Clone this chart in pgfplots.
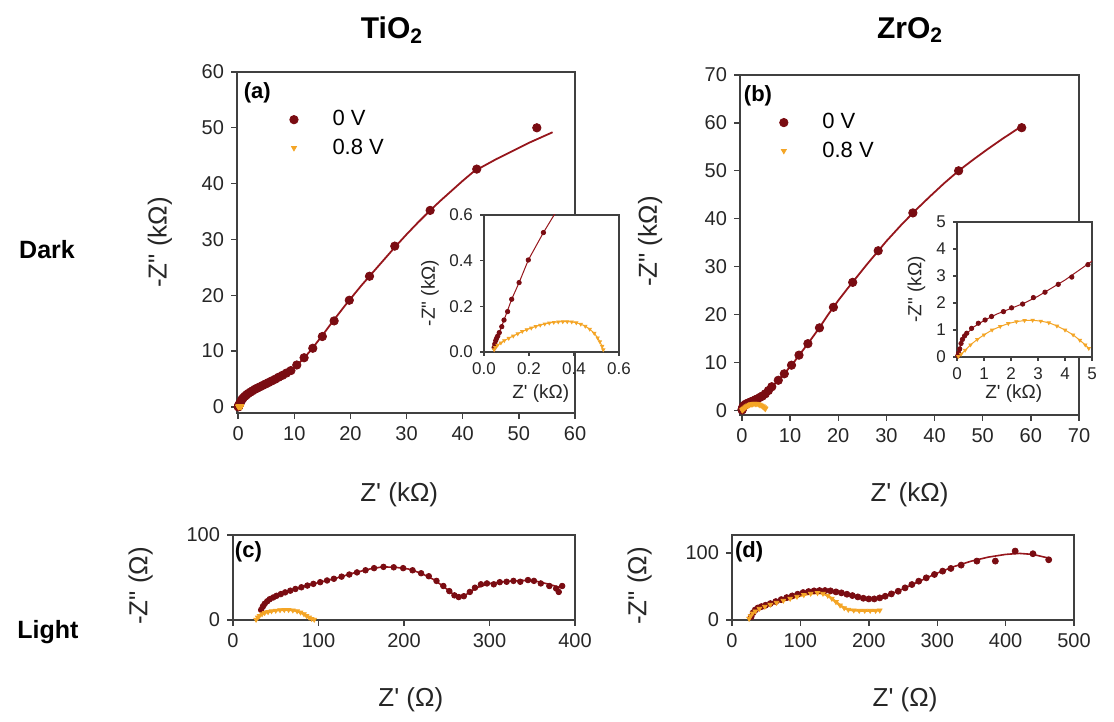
\documentclass[border=0pt]{standalone}
\usepackage{pgfplots}
\pgfplotsset{compat=1.18}
\usepackage{pgfplotstable}
\usepackage{fontspec}
\setmainfont{Liberation Sans}

\definecolor{dred}{RGB}{122,12,18}
\definecolor{fred}{RGB}{150,22,28}
\definecolor{orng}{RGB}{244,165,38}

% ---------- TiO2 dark ----------
\pgfplotstableread{
x y
0.045 0.02
0.048 0.035
0.052 0.05
0.056 0.06
0.061 0.07
0.068 0.085
0.079 0.111
0.089 0.14
0.105 0.177
0.123 0.231
0.156 0.304
0.197 0.403
0.264 0.523
0.35 0.70
0.5 1.0
0.7 1.35
0.9 1.6
1.2 1.9
1.5 2.15
1.8 2.4
2.2 2.65
2.6 2.9
3.0 3.15
3.4 3.35
3.9 3.6
4.4 3.85
4.9 4.1
5.4 4.35
6.0 4.65
6.6 4.95
7.2 5.3
7.9 5.65
8.6 6.05
9.4 6.5
10.45 7.5
11.75 8.8
13.3 10.5
15.0 12.6
17.1 15.4
19.8 19.1
23.4 23.4
27.9 28.8
34.2 35.2
42.5 42.6
53.2 50.0
}\TiZero
\pgfplotstableread{
x y
0.045 0.0
0.068 0.085
0.089 0.14
0.123 0.231
0.156 0.304
0.197 0.403
0.264 0.523
0.33 0.63
0.45 0.85
0.6 1.1
1 1.6
2 2.55
3 3.15
4 3.65
5 4.15
6 4.65
7 5.15
8 5.75
9 6.35
10 7.1
11 8.0
12 9.05
13 10.2
14 11.5
15 12.8
16 14.15
17 15.5
18 16.8
19 18.1
20 19.35
22 21.8
24 24.1
26 26.4
28 28.7
30 30.9
32 33.0
34 35.0
36 36.9
38 38.7
40 40.5
42 42.2
44 43.3
46 44.4
48 45.4
50 46.4
52 47.4
54 48.3
56 49.2
}\TiZeroFit
\pgfplotstableread{
x y
0.045 0.01
0.05 0.02
0.06 0.03
0.075 0.04
0.09 0.05
0.11 0.06
0.13 0.07
0.15 0.08
0.17 0.09
0.19 0.098
0.21 0.105
0.23 0.112
0.25 0.118
0.27 0.123
0.29 0.127
0.31 0.13
0.33 0.132
0.35 0.133
0.37 0.133
0.39 0.132
0.41 0.128
0.43 0.122
0.45 0.113
0.47 0.1
0.49 0.082
0.505 0.062
0.515 0.045
0.525 0.025
0.53 0.01
}\TiEight

% ---------- ZrO2 dark ----------
\pgfplotstableread{
x y
0.03 0.05
0.06 0.15
0.1 0.3
0.15 0.5
0.2 0.65
0.28 0.78
0.36 0.88
0.54 1.06
0.79 1.25
1.04 1.37
1.28 1.5
1.72 1.68
2.02 1.82
2.43 1.96
2.83 2.2
3.26 2.4
3.75 2.69
4.25 2.96
4.85 3.42
5.5 4.1
6.2 4.9
7.55 6.25
8.8 7.6
10.3 9.4
11.85 11.5
13.7 13.9
16.1 17.2
19.0 21.5
23.0 26.7
28.3 33.3
35.5 41.2
45.0 50.0
58.1 59.0
}\ZrZero
\pgfplotstableread{
x y
0.0 0.0
0.1 0.3
0.2 0.62
0.3 0.8
0.6 1.1
1 1.35
1.5 1.6
2 1.8
2.5 2.0
3 2.25
3.5 2.55
4 2.85
4.5 3.2
5 3.55
6 4.7
7 5.7
8 6.75
9 7.9
10 9.05
11 10.3
12 11.65
14 14.3
16 17.1
18 20.1
20 22.9
22 25.5
24 28.0
26 30.5
28 32.9
30 35.3
33 38.6
36 41.7
39 44.6
42 47.4
45 50.0
48 52.3
51 54.5
54 56.6
57 58.6
58.6 59.5
}\ZrZeroFit
\pgfplotstableread{
x y
0.05 0.02
0.15 0.1
0.3 0.25
0.5 0.45
0.75 0.65
1.0 0.82
1.3 1.0
1.6 1.13
1.9 1.24
2.2 1.31
2.5 1.35
2.8 1.36
3.1 1.33
3.4 1.27
3.7 1.15
4.0 1.0
4.3 0.82
4.55 0.62
4.75 0.45
4.88 0.32
}\ZrEight

% ---------- TiO2 light ----------
\pgfplotstableread{
x y
33 12
35 16
37 19
40 22
43 24.5
47 26.5
51 28.5
56 30.5
61 32.5
67 34.5
73 36.5
80 38.5
87 40.5
94 42.5
102 44.5
110 46.5
118 48.5
127 51
136 53.5
145 56
155 58.5
165 61
176 62.5
188 62
199 61
210 58.5
220 55
229 51.5
238 46
246 40
253 34
259 29
264 27
270 28
277 33
283 38
290 42
297 43
305 42
312 44.5
320 45
328 46
336 45
345 47
352 46
360 43
370 40
378 37
381 33
385 40
}\TiLZero
\pgfplotstableread{
x y
30 10
35 17
45 25
60 32
80 38.5
100 44
120 49
140 55
160 60
175 62.5
190 62
205 60
220 55
235 47.5
248 38
258 30
265 27.5
272 29.5
285 38
300 43
320 45.5
340 46.5
355 45.5
370 42
383 38
}\TiLZeroFit
\pgfplotstableread{
x y
27 0.5
29 3
31 5
34 7
37 8.5
41 9.5
45 10.5
50 11.2
55 11.8
60 12
65 12
70 11.5
75 10.5
79 9
83 7
86 5
89 3
92 1.5
95 0.5
}\TiLEight

% ---------- ZrO2 light ----------
\pgfplotstableread{
x y
28 5
31 11
34 15
38 18
43 20
49 22
56 24.5
64 27.5
72 30.5
80 33.5
88 36
96 38.5
104 41
112 42.5
120 43.5
128 44
136 44
144 43.5
152 42
160 40.5
168 38.5
176 36.5
184 34.5
192 32.5
200 31.5
208 31.5
216 33
224 35.5
233 39
243 43
253 48
263 53
273 58
284 63
296 68
308 73
320 77
335 82
358 88
385 88
414 103
440 99
463 90
}\ZrLZero
\pgfplotstableread{
x y
27 3
30 10
40 19
60 26
80 33.5
100 40
120 43.5
140 44
160 40.5
180 35.5
200 31.5
210 31.5
225 35.5
250 46.5
275 58.5
300 70
325 80
350 88
375 94
400 98
420 99.5
440 98
465 92
}\ZrLZeroFit
\pgfplotstableread{
x y
25 2
27 6
30 10
34 13
40 17
48 20
56 23
65 26
75 29
85 32
95 35
105 37.5
115 39.5
125 40.5
133 39.5
140 36.5
146 32
152 27
158 22
164 18
170 15.5
178 14.5
186 14
194 14
202 14
210 14
216 14.5
}\ZrLEight

\pgfplotsset{
  base/.style={
    scale only axis, anchor=south west,
    axis line style={line width=0.8pt, black!75},
    tick align=outside, tick pos=left,
    major tick length=3pt,
    tick style={black!75, line width=0.7pt},
    ticklabel style={font=\fontsize{10}{12}\selectfont, black!85},
    /pgf/number format/assume math mode=true,
    label style={font=\fontsize{13}{15}\selectfont, black!85},
    legend cell align=left,
  },
  insetstyle/.style={
    base,
    axis background/.style={fill=white},
    major tick length=2pt,
    ticklabel style={font=\fontsize{8.5}{10}\selectfont},
    label style={font=\fontsize{9.5}{11}\selectfont},
  },
  zero/.style={only marks, mark=*, mark size=#1, mark options={fill=dred, draw=dred},
    legend image code/.code={\draw[##1] plot coordinates {(0.5cm,0cm)}; \path (0cm,0cm) (1.1cm,0cm);}},
  eight/.style={only marks, mark=triangle*, mark size=#1, mark options={fill=orng, draw=orng, rotate=180},
    legend image code/.code={\draw[##1] plot coordinates {(0.5cm,0cm)}; \path (0cm,0cm) (1.1cm,0cm);}},
  fitline/.style={no marks, fred, line width=#1},
  oline/.style={no marks, orng, line width=#1},
}

\begin{document}
\begin{tikzpicture}
% ---------------- (a) ----------------
\begin{axis}[base, at={(118.5pt,154.5pt)}, width=169pt, height=170.5pt,
  xmin=-0.2, xmax=60, ymin=-1.1, ymax=60,
  xtick={0,10,...,60}, ytick={0,10,...,60},
  xlabel={Z\textquotesingle{} (kΩ)}, ylabel={-Z\textquotedbl{} (kΩ)},
  xlabel style={at={(axis description cs:0.48,-0.24)}, anchor=center},
  ylabel style={at={(axis description cs:-0.228,0.5)}, anchor=center},
  legend style={draw=none, fill=none, at={(axis description cs:0.082,0.90)}, anchor=north west,
    font=\fontsize{11}{13}\selectfont, row sep=1pt, inner sep=0pt}]
\addplot[fitline=0.9pt, forget plot] table {\TiZeroFit};
\addplot[zero=2.1pt] table {\TiZero};
\addlegendentry{0 V}
\addplot[oline=0.5pt, forget plot] table {\TiEight};
\addplot[eight=1.4pt] table {\TiEight};
\addlegendentry{0.8 V}
\node[font=\bfseries\fontsize{11}{13}\selectfont] at (axis description cs:0.06,0.938) {(a)};
\end{axis}
% ---------------- inset (a) ----------------
\begin{axis}[insetstyle, at={(242pt,185pt)}, width=67.5pt, height=68.5pt,
  xmin=0, xmax=0.6, ymin=0, ymax=0.6,
  xtick={0,0.2,0.4,0.6}, ytick={0,0.2,0.4,0.6},
  /pgf/number format/.cd, fixed, fixed zerofill, precision=1, /pgfplots/.cd,
  xlabel={Z\textquotesingle{} (kΩ)}, ylabel={-Z\textquotedbl{} (kΩ)},
  xlabel style={at={(axis description cs:0.42,-0.3)}, anchor=center},
  ylabel style={at={(axis description cs:-0.4,0.43)}, anchor=center}]
\addplot[fitline=0.5pt] table {\TiZeroFit};
\addplot[zero=1.1pt] table {\TiZero};
\addplot[oline=0.5pt] table {\TiEight};
\addplot[eight=0.9pt] table {\TiEight};
\end{axis}
% ---------------- (b) ----------------
\begin{axis}[base, at={(370pt,153.5pt)}, width=169.5pt, height=170pt,
  xmin=-0.4, xmax=70, ymin=-1, ymax=70,
  xtick={0,10,...,70}, ytick={0,10,...,70},
  xlabel={Z\textquotesingle{} (kΩ)}, ylabel={-Z\textquotedbl{} (kΩ)},
  xlabel style={at={(axis description cs:0.5,-0.235)}, anchor=center},
  ylabel style={at={(axis description cs:-0.265,0.51)}, anchor=center},
  legend style={draw=none, fill=none, at={(axis description cs:0.043,0.90)}, anchor=north west,
    font=\fontsize{11}{13}\selectfont, row sep=1pt, inner sep=0pt}]
\addplot[fitline=0.9pt, forget plot] table {\ZrZeroFit};
\addplot[zero=2.1pt] table {\ZrZero};
\addlegendentry{0 V}
\addplot[oline=0.5pt, forget plot] table {\ZrEight};
\addplot[eight=1.4pt] table {\ZrEight};
\addlegendentry{0.8 V}
\node[font=\bfseries\fontsize{11}{13}\selectfont] at (axis description cs:0.053,0.94) {(b)};
\end{axis}
% ---------------- inset (b) ----------------
\begin{axis}[insetstyle, at={(478.5pt,182.5pt)}, width=67.5pt, height=67.5pt,
  xmin=0, xmax=5, ymin=0, ymax=5,
  xtick={0,1,...,5}, ytick={0,1,...,5},
  xlabel={Z\textquotesingle{} (kΩ)}, ylabel={-Z\textquotedbl{} (kΩ)},
  xlabel style={at={(axis description cs:0.42,-0.27)}, anchor=center},
  ylabel style={at={(axis description cs:-0.3,0.5)}, anchor=center}]
\addplot[fitline=0.5pt] table {\ZrZeroFit};
\addplot[zero=1.1pt] table {\ZrZero};
\addplot[oline=0.5pt] table {\ZrEight};
\addplot[eight=0.9pt] table {\ZrEight};
\end{axis}
% ---------------- (c) ----------------
\begin{axis}[base, at={(116.5pt,51pt)}, width=171pt, height=42.5pt,
  xmin=0, xmax=400, ymin=0, ymax=100,
  xtick={0,100,...,400}, ytick={0,100},
  xlabel={Z\textquotesingle{} (Ω)}, ylabel={-Z\textquotedbl{} (Ω)},
  xlabel style={at={(axis description cs:0.52,-0.94)}, anchor=center},
  ylabel style={at={(axis description cs:-0.27,0.4)}, anchor=center}]
\addplot[fitline=0.8pt] table {\TiLZeroFit};
\addplot[zero=1.4pt] table {\TiLZero};
\addplot[oline=1.2pt] table {\TiLEight};
\addplot[eight=1.3pt] table {\TiLEight};
\node[font=\bfseries\fontsize{11}{13}\selectfont] at (axis description cs:0.045,0.8) {(c)};
\end{axis}
% ---------------- (d) ----------------
\begin{axis}[base, at={(366pt,51pt)}, width=171pt, height=42.5pt,
  xmin=0, xmax=500, ymin=0, ymax=127,
  xtick={0,100,...,500}, ytick={0,100},
  xlabel={Z\textquotesingle{} (Ω)}, ylabel={-Z\textquotedbl{} (Ω)},
  xlabel style={at={(axis description cs:0.506,-0.94)}, anchor=center},
  ylabel style={at={(axis description cs:-0.27,0.4)}, anchor=center}]
\addplot[fitline=0.8pt] table {\ZrLZeroFit};
\addplot[zero=1.5pt] table {\ZrLZero};
\addplot[oline=1.2pt] table {\ZrLEight};
\addplot[eight=1.3pt] table {\ZrLEight};
\node[font=\bfseries\fontsize{11}{13}\selectfont] at (axis description cs:0.05,0.8) {(d)};
\end{axis}
% ---------------- titles ----------------
\node[font=\bfseries\fontsize{15}{18}\selectfont] at (196pt,346pt) {TiO\textsubscript{2}};
\node[font=\bfseries\fontsize{15}{18}\selectfont] at (455pt,346pt) {ZrO\textsubscript{2}};
\node[font=\bfseries\fontsize{12.5}{15}\selectfont] at (23.5pt,236pt) {Dark};
\node[font=\bfseries\fontsize{12.5}{15}\selectfont] at (24pt,45pt) {Light};
\pgfresetboundingbox
\path (0,0) rectangle (557pt,361pt);
\end{tikzpicture}
\end{document}
